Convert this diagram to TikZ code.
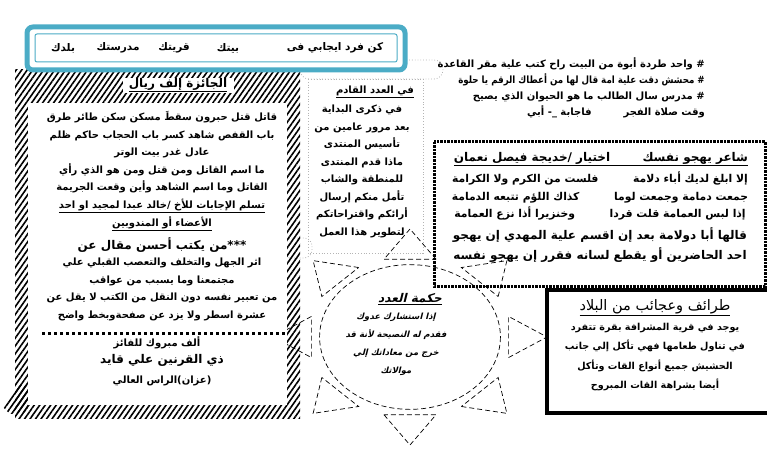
\documentclass[tikz,border=0pt]{standalone}
\usepackage{fontspec}
\usepackage{graphicx}
\usepackage{tikz}
\usetikzlibrary{patterns.meta,positioning}
\TeXXeTstate=1
\newfontfamily\arabicfont[Script=Arabic]{DejaVu Sans}
\newfontfamily\arabicslant[Script=Arabic,FakeSlant=0.25]{DejaVu Sans}
\newcommand{\ar}[1]{\beginR #1\endR}
\definecolor{bannerblue}{RGB}{75,172,198}
\definecolor{tabgray}{RGB}{180,180,180}
\tikzstyle{artext} = [inner sep=0pt, align=center, text=black, font=\arabicfont\bfseries\fontsize{10}{17.5}\selectfont]
\tikzstyle{arbig} = [inner sep=0pt, align=center, text=black, font=\arabicfont\bfseries\fontsize{12}{20}\selectfont]
\tikzstyle{arslant} = [inner sep=0pt, align=center, text=black, font=\arabicslant\bfseries\fontsize{8.5}{18}\selectfont]
\tikzstyle{hatch} = [pattern={Lines[angle=55,distance=4.5pt,line width=1.6pt]}]
\tikzstyle{tabline} = [draw=tabgray, line width=0.8pt, dotted]
\tikzstyle{sunline} = [draw=black, line width=0.7pt, dash pattern=on 5pt off 3pt]

\begin{document}
\begin{tikzpicture}[x=1pt,y=-1pt]
\useasboundingbox (0,0) rectangle (767,454);
\clip (0,0) rectangle (767,454);
%frames=========================
\draw[tabline, rounded corners=9pt] (300,60) rectangle (443,79);
\draw[tabline] (308,79) rectangle (423,253);
\draw[tabline, rounded corners=8pt] (283,238) rectangle (312,258);

\begin{scope}[shift={(410,337)}, xscale=137, yscale=108]
\draw[sunline] (0,0) ellipse [x radius=0.66, y radius=0.67];
\foreach \a in {0,45,...,315}
  \draw[sunline] ({0.72*cos(\a)-0.19*sin(\a)},{0.72*sin(\a)+0.19*cos(\a)}) -- ({cos(\a)},{sin(\a)})
    -- ({0.72*cos(\a)+0.19*sin(\a)},{0.72*sin(\a)-0.19*cos(\a)}) -- cycle;
\end{scope}

\draw[line width=3pt, dash pattern=on 2.5pt off 1pt] (434,142) rectangle (765,286);
\draw[line width=4pt] (770,290) -- (547,290) -- (547,413) -- (770,413);

\fill[hatch] (15,70) rectangle (300,418);
\fill[hatch] (2,406) -- (20,385) -- (28,385) -- (28,412) -- (10,414) -- cycle;
\fill[white] (28,103) rectangle (287,405);
\fill[white] (123,78) rectangle (234,93);
\draw[line width=3pt, dash pattern=on 3pt off 3pt] (42,333) -- (285,333);

\draw[bannerblue, line width=5pt, fill=white, rounded corners=6pt] (27,27) rectangle (405,70);
\draw[bannerblue, line width=1pt, rounded corners=2pt] (35,34) rectangle (397,62);

%texts=========================
\node[artext, font=\arabicfont\bfseries\fontsize{10.5}{17}\selectfont] (fard) at (335,48) {\ar{كن فرد ايجابي فى}};
\node[artext, font=\arabicfont\bfseries\fontsize{10.5}{17}\selectfont] (bayt) at (228,48) {\ar{بيتك}};
\node[artext, font=\arabicfont\bfseries\fontsize{10.5}{17}\selectfont] (qarya) at (174,48) {\ar{قريتك}};
\node[artext, font=\arabicfont\bfseries\fontsize{10.5}{17}\selectfont] (madrasa) at (118,48) {\ar{مدرستك}};
\node[artext, font=\arabicfont\bfseries\fontsize{10.5}{17}\selectfont] (balad) at (63,48) {\ar{بلدك}};

\node[artext, align=right, anchor=north east, font=\arabicfont\bfseries\fontsize{10}{16}\selectfont] (nukat) at (705,57) {%
\ar{\# واحد طردة أبوة من البيت راح كتب علية مقر القاعدة}\\
\scalebox{0.87}[1]{\ar{\# محشش دقت علية امة قال لها من أعطاك الرقم يا حلوة}}\\
\ar{\# مدرس سال الطالب ما هو الحيوان الذي يصيح}\\
\ar{وقت صلاة الفجر \hspace{2.5em} فاجابة \_- أبي}};

\node[artext, font=\arabicfont\bfseries\fontsize{12}{17}\selectfont] (jaiza) at (178,85) {\underline{\ar{الجائزة إلف ريال}}};
\node[artext, anchor=north] (lughz) at (162,111) {%
\ar{قاتل قتل حبرون سقطَ مسكن سكن طائر طرق}\\
\ar{باب القفص  شاهد كسر باب الحجاب حاكم ظلم}\\
\ar{عادل غدر بيت الوتر}\\
\ar{ما اسم القاتل ومن قتل ومن هو الذي رأي}\\
\ar{القاتل وما اسم الشاهد وأين وقعت الجريمة}};
\node[artext, anchor=north] (taslim) at (162,199) {%
\underline{\ar{تسلم الإجابات للأخ /خالد عبدا لمجيد او احد}}\\
\underline{\ar{الأعضاء أو المندوبين}}};
\node[arbig] (maqal) at (162,245) {\ar{***من يكتب أحسن مقال عن}};
\node[artext, anchor=north] (athar) at (162,258) {%
\ar{اثر الجهل والتخلف والتعصب القبلي علي}\\
\ar{مجتمعنا وما يسبب من عواقب}\\
\ar{من تعبير نفسه دون النقل من الكتب لا يقل عن}\\
\ar{عشرة اسطر ولا يزد عن صفحةوبخط واضح}};
\node[artext] (mabrouk) at (157,343) {\ar{ألف مبروك  للفائز}};
\node[arbig] (faiz) at (162,360) {\ar{ذي القرنين علي قايد}};
\node[artext] (azzan) at (162,381) {\ar{(عزان)الراس العالي}};

\node[artext] (qadim) at (375,92) {\underline{\ar{في العدد القادم}}};
\node[artext, anchor=north] (dhikra) at (362,105) {%
\ar{في ذكرى البداية}\\
\ar{بعد مرور عامين من}\\
\ar{تأسيس المنتدى}\\
\ar{ماذا قدم المنتدى}\\
\ar{للمنطقة والشاب}\\
\ar{تأمل منكم إرسال}\\
\ar{أرائكم واقتراحاتكم}\\
\ar{لتطوير هذا العمل}};

\node[artext, font=\arabicfont\bfseries\fontsize{12}{17}\selectfont] (shaer) at (601,159) {\underline{\ar{شاعر يهجو نفسك \hspace{2em} اختيار /خديجة فيصل نعمان}}};
\node[artext, anchor=north, font=\arabicfont\bfseries\fontsize{10.8}{17.5}\selectfont] (qasida) at (600,172) {%
\ar{إلا ابلغ لديك أباء  دلامة \hspace{2.5em} فلست من الكرم ولا الكرامة}\\
\ar{جمعت دمامة وجمعت لوما \hspace{2.5em} كذاك اللؤم تتبعه الدمامة}\\
\ar{إذا لبس العمامة قلت قردا \hspace{2.5em} وخنزيرا أذا نزع العمامة}};
\node[arbig, anchor=north] (qissa) at (600,227) {%
\ar{قالها أبا دولامة بعد إن اقسم علية المهدي إن يهجو}\\
\ar{احد الحاضرين أو يقطع لسانه فقرر إن يهجو نفسه}};

\node[arslant, font=\arabicslant\bfseries\fontsize{12}{18}\selectfont] (hikma) at (410,299) {\underline{\ar{حكمة العدد}}};
\node[arslant, anchor=north] (nasiha) at (396,313) {%
\ar{إذا استشارك عدوك}\\
\ar{فقدم له النصيحة لأنة قد}\\
\ar{خرج من معاداتك إلي}\\
\ar{موالاتك}};

\node[artext, font=\arabicfont\fontsize{14.5}{18}\selectfont] (taraif) at (655,308) {\underline{\ar{طرائف وعجائب من البلاد}}};
\node[artext, anchor=north, font=\arabicfont\bfseries\fontsize{9.6}{19.5}\selectfont] (baqara) at (655,323) {%
\ar{يوجد في قرية المشرافة بقرة تتفرد}\\
\ar{في تناول طعامها فهي تأكل إلي جانب}\\
\ar{الحشيش جميع أنواع القات وتأكل}\\
\ar{أيضا بشراهة القات المبروح}};
\end{tikzpicture}
\end{document}
